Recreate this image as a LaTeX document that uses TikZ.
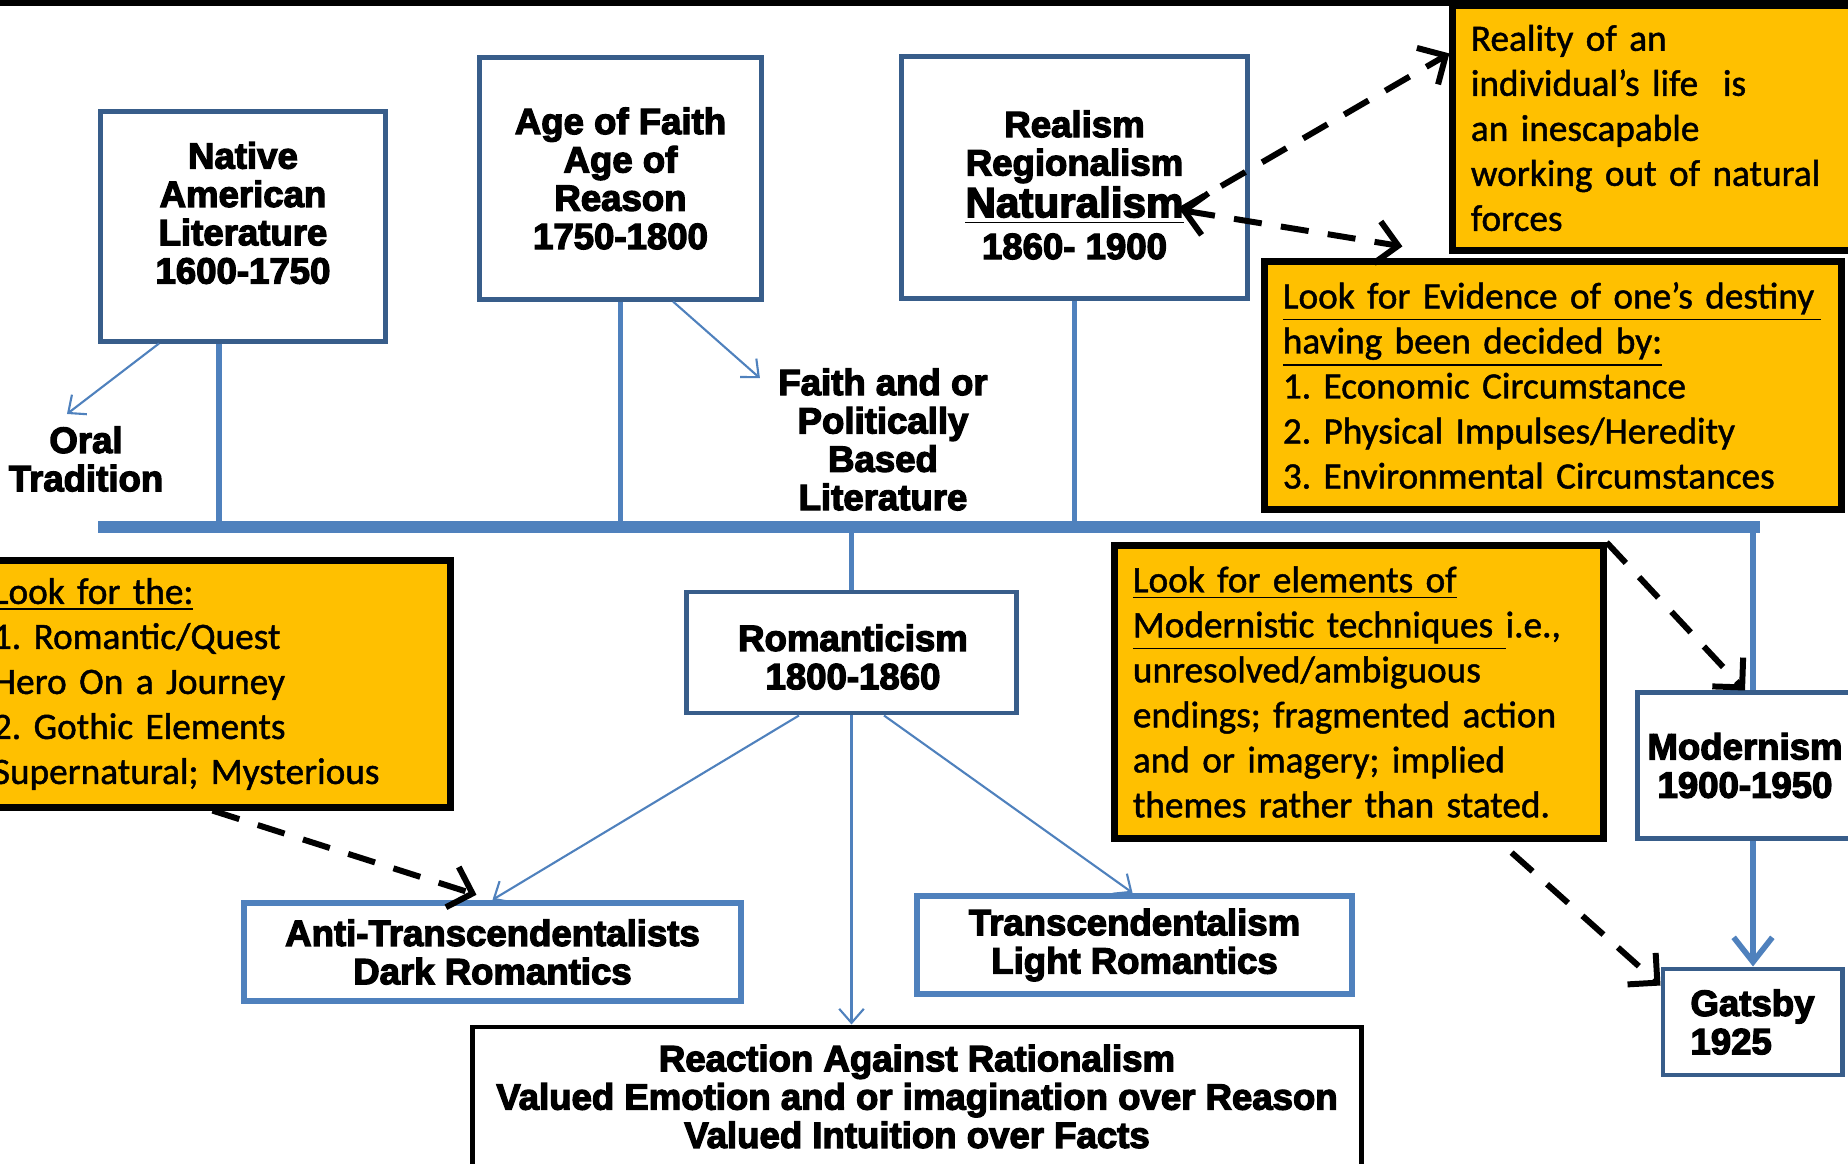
\documentclass[tikz,border=0pt]{standalone}
\usepackage{fontspec}
\setmainfont{Liberation Sans}[BoldFeatures={FakeBold=3.5}]
\newfontfamily\calfont{Carlito}[FakeBold=1.2]
\usepackage{tikz}
\usetikzlibrary{arrows.meta, positioning, calc}
\definecolor{darkblue}{RGB}{56,93,138}
\definecolor{midblue}{RGB}{79,129,189}
\definecolor{amber}{RGB}{255,192,0}
\newcommand\heavytext{\fontsize{10.4}{10.9}\selectfont\bfseries}
\newcommand\notetext{\calfont\fontsize{10.6}{12.8}\selectfont\frenchspacing}

\begin{document}
\begin{tikzpicture}[x=0.01cm, y=-0.01cm,
  era/.style={draw=darkblue, line width=1.4pt, fill=white, align=center, font=\heavytext, inner sep=0pt},
  branch/.style={draw=midblue, line width=1.8pt, fill=white, align=center, font=\heavytext, inner sep=0pt},
  freetext/.style={align=center, font=\heavytext},
  note/.style={draw=black, line width=2pt, fill=amber, align=left, font=\notetext, inner xsep=0.18cm, inner ysep=0pt},
  stem/.style={midblue, line width=1.6pt},
  pointer/.style={midblue, line width=0.6pt, -{Straight Barb[length=4pt,width=7pt]}},
  hint/.style={black, line width=1.7pt, dash pattern=on 8pt off 5.5pt, -{Straight Barb[length=6pt,width=12pt]}}]
\useasboundingbox (0,0) rectangle (1848,1164);
\clip (0,0) rectangle (1848,1164);

% Top rule
\draw[line width=1.7pt] (0,3) -- (1848,3);

% Early periods
\node[era, minimum width=2.84cm, minimum height=2.29cm] (native) at (243,226.5) {};
\node[freetext, inner sep=0pt] (nativetitle) at (243,213) {Native\\American\\Literature\\1600-1750};
\node[era, minimum width=2.81cm, minimum height=2.41cm] (faith) at (620.5,178.5) {Age of Faith\\Age of\\Reason\\1750-1800};
\node[era, minimum width=3.45cm, minimum height=2.41cm] (realism) at (1074.5,177.5) {};
\node[freetext, inner sep=0pt] (realismtitle) at (1074.5,185) {Realism\\Regionalism\\[1pt]{\fontsize{12}{13}\selectfont\underline{Naturalism}}\\[1pt]1860- 1900};
\node[freetext] (oral) at (86,459) {Oral\\Tradition};
\node[freetext] (politics) at (883,439.5) {Faith and or\\Politically\\Based\\Literature};

% Timeline
\coordinate (tlstart) at (98,527);
\coordinate (tlend) at (1753,527);
\draw[midblue, line width=3.4pt] (tlstart) -- ([xshift=0.07cm]tlend);
\draw[stem] ([xshift=-0.24cm]native.south) -- ([xshift=-0.24cm]native.south |- tlstart);
\foreach \n in {faith, realism} {
    \draw[stem] (\n.south) -- (\n.south |- tlstart);
}

% Romanticism and its branches
\node[era, minimum width=3.29cm, minimum height=1.21cm] (roman) at (851.5,652.5) {};
\node[freetext, inner sep=0pt] (romantitle) at (853,657) {Romanticism\\1800-1860};
\node[branch, minimum width=4.97cm, minimum height=0.98cm] (anti) at (492.5,952) {Anti-Transcendentalists\\Dark Romantics};
\node[branch, minimum width=4.35cm, minimum height=0.98cm] (transc) at (1134.5,945) {Transcendentalism\\Light Romantics};
\node[era, draw=black, minimum width=8.88cm, minimum height=1.39cm] (reaction) at (917,1096.5) {Reaction Against Rationalism\\Valued Emotion and or imagination over Reason\\Valued Intuition over Facts};
\draw[stem] (roman.north |- tlstart) -- (roman.north);

% Modernism
\node[era, minimum width=2.14cm, minimum height=1.45cm] (modern) at (1745,765.5) {Modernism\\1900-1950};
\node[era, align=left, minimum width=1.79cm, minimum height=1.06cm] (gatsby) at (1752.5,1022) {Gatsby\\1925};
\draw[stem] (tlend) -- (tlend |- modern.north);
\draw[midblue, line width=1.6pt, -{Straight Barb[length=7pt,width=11pt]}] (modern.south -| tlend) -- (gatsby.north -| tlend);

% Notes
\node[note, text width=3.81cm, minimum height=2.44cm] (reality) at (1661.5,128) {Reality of an\\individual’s life \ is\\an inescapable\\working out of natural\\forces};
\node[note, text width=5.40cm, minimum height=2.47cm] (evidence) at (1553,385.5) {\underline{Look for Evidence of one’s destiny\kern2pt}\\\underline{having been decided by:}\\1. Economic Circumstance\\2. Physical Impulses/Heredity\\3. Environmental Circumstances};
\node[note, text width=4.39cm, minimum height=2.46cm] (quest) at (212.5,684) {\underline{Look for the:}\\1. Romantic/Quest\\Hero On a Journey\\2. Gothic Elements\\Supernatural; Mysterious};
\node[note, text width=4.52cm, minimum height=2.92cm] (techniques) at (1359,692) {\underline{Look for elements of}\\\underline{Modernistic techniques\ }i.e.,\\unresolved/ambiguous\\endings; fragmented action\\and or imagery; implied\\themes rather than stated.};

% Thin arrows
\draw[pointer] ([xshift=-0.84cm]native.south) -- ([xshift=-0.19cm]oral.north);
\draw[pointer] ([xshift=0.525cm]faith.south) -- ([xshift=-0.06cm,yshift=-0.22cm]politics.north west);
\draw[pointer] ([xshift=-0.525cm]roman.south) -- (anti.north);
\draw[pointer] (roman.south) -- (roman.south |- reaction.north);
\draw[pointer] ([xshift=0.325cm]roman.south) -- ([xshift=-0.02cm]transc.north);

% Dashed hints
\coordinate (natend) at (1180,210);
\draw[hint] (natend) -- ([yshift=-0.51cm]reality.north west);
\draw[hint, {Straight Barb[length=6pt,width=12pt]}-{Straight Barb[length=6pt,width=12pt]}] (natend) -- ([xshift=1.41cm,yshift=0.12cm]evidence.north west);
\draw[hint] (quest.south) -- ([xshift=-0.16cm,yshift=0.05cm]anti.north);
\draw[hint] (techniques.north east) -- (modern.north);
\draw[hint] ([xshift=-0.95cm,yshift=-0.11cm]techniques.south east) -- ([yshift=-0.19cm]gatsby.north west);
\end{tikzpicture}
\end{document}
